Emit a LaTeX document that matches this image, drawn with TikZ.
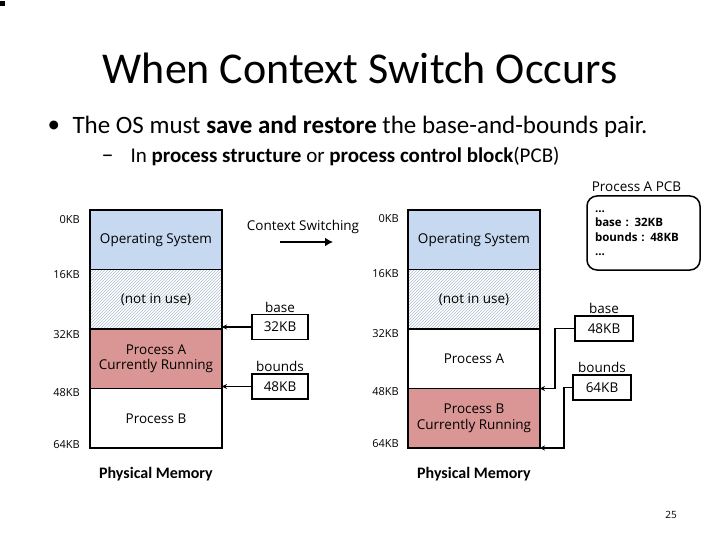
\documentclass[tikz,border=0pt]{standalone}
\usepackage{fontspec}
\setmainfont{Carlito}
\newfontfamily\diagfont{Open Sans}
\usepackage{xcolor}
\usetikzlibrary{arrows.meta, positioning, patterns}

\definecolor{osblue}{RGB}{198,217,240}
\definecolor{runred}{RGB}{218,150,148}
\definecolor{hatchgray}{RGB}{175,190,204}

\begin{document}
\begin{tikzpicture}[x=1pt, y=-1pt,
    seg/.style={rectangle, draw=black, line width=1.5pt, outer sep=0pt, minimum width=132pt, minimum height=59.5pt, align=center, font=\diagfont\fontsize{13.5}{15.5}\selectfont},
    freeseg/.style={seg, pattern=north east lines, pattern color=hatchgray},
    regbox/.style={rectangle, draw=black, line width=1.5pt, minimum width=56pt, minimum height=25pt, inner sep=0pt, font=\diagfont\fontsize{13.5}{15}\selectfont},
    reglabel/.style={font=\diagfont\fontsize{13.5}{15}\selectfont, inner sep=1pt},
    addr/.style={anchor=east, inner sep=0pt, font=\diagfont\fontsize{11}{13}\selectfont},
    regarrow/.style={draw=black, line width=1.5pt, -{Stealth[length=5pt, width=5pt]}},
    memtitle/.style={font=\fontsize{16}{18}\selectfont\bfseries}
]
    \useasboundingbox (0,0) rectangle (720,540);
    \fill (0,1) rectangle (5,6);

    % Slide heading
    \node[font=\fontsize{44}{48}\selectfont] (TITLE) at (360,68) {When Context Switch Occurs};
    \node[anchor=west, font=\fontsize{25}{28}\selectfont] (BUL) at (44,127) {\textbullet};
    \node[anchor=west, font=\fontsize{25}{28}\selectfont] (LINE1) at (69,127) {The OS must \textbf{save and restore} the base-and-bounds pair.};
    \node[anchor=west, font=\fontsize{24}{24}\selectfont] (DASH) at (98,159) {\textendash};
    \node[anchor=west, font=\fontsize{21}{24}\selectfont] (LINE2) at (127,156) {In \textbf{process structure} or \textbf{process control block}(PCB)};

    % Memory before the switch
    \node[seg, fill=osblue, anchor=north west] (OS1) at (90,210) {Operating System};
    \node[freeseg, below=0pt of OS1] (FREE1) {(not in use)};
    \node[seg, fill=runred, below=0pt of FREE1] (PA1) {Process A\\Currently Running};
    \node[seg, fill=white, below=0pt of PA1] (PB1) {Process B};
    \node[memtitle, below=16pt of PB1] (PM1) {Physical Memory};

    \node[addr] (L0A) at (80,220) {0KB};
    \node[addr] (L16A) at (80,275) {16KB};
    \node[addr] (L32A) at (80,335) {32KB};
    \node[addr] (L48A) at (80,393) {48KB};
    \node[addr] (L64A) at (80,445) {64KB};

    \node[regbox] (BASE1) at (280,327) {32KB};
    \node[reglabel, above=0pt of BASE1] (BASELBL1) {base};
    \node[regbox] (BOUNDS1) at (280,386.5) {48KB};
    \node[reglabel, above=0pt of BOUNDS1] (BOUNDSLBL1) {bounds};
    \draw[regarrow] (BASE1.west) -- (BASE1.west -| PA1.east);
    \draw[regarrow] (BOUNDS1.west) -- (BOUNDS1.west -| PB1.east);

    % Context switch
    \node[reglabel] (CS) at (303,227) {Context Switching};
    \coordinate (CSL) at (280,242);
    \coordinate (CSR) at (333,242);
    \draw[draw=black, line width=2.5pt, -{Latex[length=8pt, width=9pt]}] (CSL) -- (CSR);

    % Memory after the switch
    \node[seg, fill=osblue, anchor=north west] (OS2) at (408,210) {Operating System};
    \node[freeseg, below=0pt of OS2] (FREE2) {(not in use)};
    \node[seg, fill=white, below=0pt of FREE2] (PA2) {Process A};
    \node[seg, fill=runred, below=0pt of PA2] (PB2) {Process B\\Currently Running};
    \node[memtitle, below=16pt of PB2] (PM2) {Physical Memory};

    \node[addr] (L0B) at (399,219) {0KB};
    \node[addr] (L16B) at (399,274) {16KB};
    \node[addr] (L32B) at (399,334) {32KB};
    \node[addr] (L48B) at (399,392) {48KB};
    \node[addr] (L64B) at (399,444) {64KB};

    \node[regbox, minimum width=58pt] (BASE2) at (604,328.5) {48KB};
    \node[reglabel, above=0pt of BASE2] (BASELBL2) {base};
    \node[regbox, minimum width=58pt] (BOUNDS2) at (602,387.5) {64KB};
    \node[reglabel, above=0pt of BOUNDS2] (BOUNDSLBL2) {bounds};
    \coordinate (BEND1) at (555,0);
    \coordinate (BEND2) at (564,0);
    \draw[regarrow] (BASE2.west) -- (BASE2.west -| BEND1) |- (PB2.north east);
    \draw[regarrow] (BOUNDS2.west) -- (BOUNDS2.west -| BEND2) |- (PB2.south east);

    % Saved PCB of process A
    \node[rectangle, draw=black, line width=1.5pt, rounded corners=10pt, minimum width=113pt, minimum height=74pt, align=left, text width=97pt, font=\diagfont\fontsize{11.5}{14.5}\selectfont\bfseries] (PCB) at (643.5,233) {...\\base : 32KB\\bounds : 48KB\\...};
    \node[reglabel, above=2pt of PCB, xshift=-7pt] (PCBLBL) {Process A PCB};

    \node[font=\diagfont\fontsize{10}{12}\selectfont] (PAGE) at (671,515) {25};
\end{tikzpicture}
\end{document}
